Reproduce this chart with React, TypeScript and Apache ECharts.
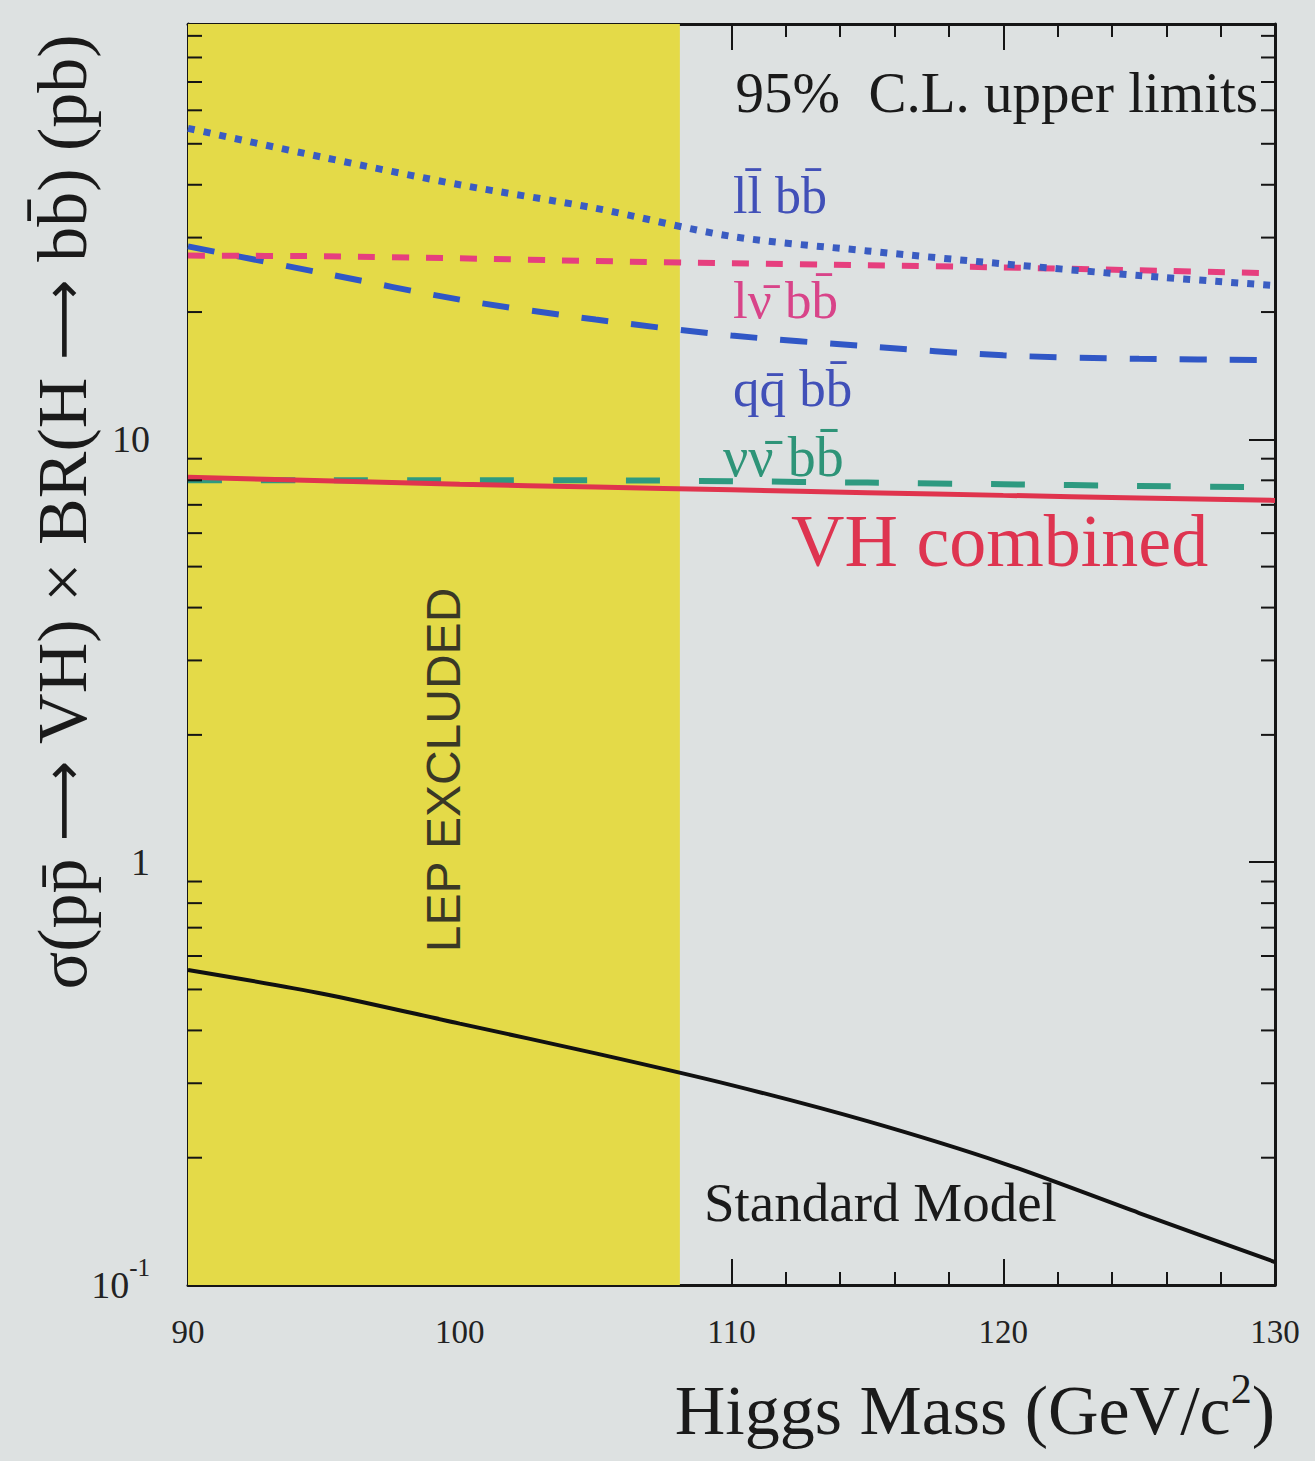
import React, { useEffect, useRef } from 'react';
import * as echarts from 'echarts';

// Higgs mass points (GeV/c^2)
const masses = [90, 95, 100, 105, 110, 115, 120, 125, 130];
// 95% C.L. upper limits (pb)
const llbb = [54.4, 46.4, 40.0, 35.2, 30.2, 27.9, 26.0, 24.4, 23.1];
const lvbb = [27.2, 27.1, 26.8, 26.4, 26.1, 25.8, 25.5, 25.1, 24.7];
const qqbb = [28.6, 24.7, 21.4, 19.2, 17.6, 16.6, 15.8, 15.5, 15.4];
const vvbb = [8.0, 8.0, 8.0, 8.0, 7.96, 7.9, 7.83, 7.76, 7.7];
const vhCombined = [8.13, 7.98, 7.83, 7.71, 7.6, 7.48, 7.37, 7.27, 7.17];
const standardModel = [0.556, 0.488, 0.415, 0.353, 0.297, 0.244, 0.194, 0.148, 0.1133];

const lepLimit = 108.1;
const xMin = 90;
const xMax = 130;
const xTickInterval = 10;
const yMin = 0.1;
const yMax = 96;
const yMinorTicks = [0.2, 0.3, 0.4, 0.5, 0.6, 0.7, 0.8, 0.9, 2, 3, 4, 5, 6, 7, 8, 9, 20, 30, 40, 50, 60, 70, 80, 90];

const SERIF = "'Liberation Serif', 'DejaVu Serif', serif";
const SANS = "'Liberation Sans', 'DejaVu Sans', sans-serif";
const BG = '#dde1e1';
const YELLOW = '#e4da48';
const INK = '#151515';

const pts = (ys: number[]) => masses.map((m, i) => [m, ys[i]]);

function lineSeries(name: string, ys: number[], color: string, width: number, type: any, z: number) {
  return {
    name,
    type: 'line',
    data: pts(ys),
    showSymbol: false,
    smooth: 0.3,
    z,
    silent: true,
    lineStyle: { color, width, type, cap: 'butt' },
  };
}

function buildOption(): any {
  const xAxisBase = {
    type: 'value',
    min: xMin,
    max: xMax,
    interval: xTickInterval,
    axisLine: { show: true, onZero: false, lineStyle: { color: INK, width: 3 } },
    axisTick: { show: true, inside: true, length: 26, lineStyle: { color: INK, width: 2 } },
    minorTick: { show: true, splitNumber: 5, length: 13, lineStyle: { color: INK, width: 2 } },
    splitLine: { show: false },
    minorSplitLine: { show: false },
  };
  const yAxisBase = {
    type: 'log',
    logBase: 10,
    min: yMin,
    max: yMax,
    axisLine: { show: true, onZero: false, lineStyle: { color: INK, width: 3 } },
    axisTick: { show: true, inside: true, length: 26, lineStyle: { color: INK, width: 2 } },
    splitLine: { show: false },
  };
  return {
    animation: false,
    backgroundColor: BG,
    grid: { left: 188, top: 24, width: 1087, height: 1261, containLabel: false },
    xAxis: [
      {
        ...xAxisBase,
        position: 'bottom',
        axisLabel: { show: true, margin: 30, fontSize: 33, fontFamily: SERIF, color: '#222' },
      },
      { ...xAxisBase, position: 'top', axisLabel: { show: false } },
    ],
    yAxis: [
      {
        ...yAxisBase,
        position: 'left',
        axisLabel: {
          show: true,
          margin: 38,
          fontSize: 38,
          fontFamily: SERIF,
          color: '#222',
          formatter: (v: number) => {
            if (Math.abs(v - 10) < 1e-6) return '10';
            if (Math.abs(v - 1) < 1e-6) return '1';
            if (Math.abs(v - 0.1) < 1e-6) return '{b|10}{s|-1}';
            return '';
          },
          rich: {
            b: { fontSize: 38, fontFamily: SERIF, color: '#222' },
            s: { fontSize: 25, fontFamily: SERIF, color: '#222', padding: [0, 0, 36, 0] },
          },
        },
      },
      { ...yAxisBase, position: 'right', axisLabel: { show: false } },
    ],
    series: [
      {
        name: 'LEP excluded',
        type: 'line',
        data: [],
        z: 1,
        silent: true,
        markArea: {
          silent: true,
          itemStyle: { color: YELLOW },
          data: [[{ xAxis: xMin }, { xAxis: lepLimit }]],
        },
      },
      {
        name: 'minor ticks',
        type: 'custom',
        z: 6,
        silent: true,
        data: yMinorTicks.map((v) => [xMin, v]),
        renderItem: (_params: any, api: any) => {
          const v = api.value(1);
          const l = api.coord([xMin, v]);
          const r = api.coord([xMax, v]);
          return {
            type: 'group',
            children: [
              { type: 'line', shape: { x1: l[0], y1: l[1], x2: l[0] + 14, y2: l[1] }, style: { stroke: INK, lineWidth: 2 } },
              { type: 'line', shape: { x1: r[0], y1: r[1], x2: r[0] - 14, y2: r[1] }, style: { stroke: INK, lineWidth: 2 } },
            ],
          };
        },
      },
      lineSeries('Standard Model', standardModel, '#111111', 4, 'solid', 3),
      lineSeries('νν̄ bb̄', vvbb, '#2e9a80', 6, [34, 39], 3),
      lineSeries('VH combined', vhCombined, '#e0344e', 5, 'solid', 4),
      lineSeries('qq̄ bb̄', qqbb, '#3057c6', 6, [27, 23], 4),
      lineSeries('lν̄ bb̄', lvbb, '#e63f7e', 6, [17, 17], 4),
      lineSeries('ll̄ bb̄', llbb, '#3a5cc2', 7, [7, 9], 5),
    ],
    graphic: [
      {
        type: 'text', x: 1258, y: 92, z: 10,
        style: { text: '95%  C.L. upper limits', fontSize: 57, fontFamily: SERIF, fill: '#1a1a1a', align: 'right', verticalAlign: 'middle' },
      },
      {
        type: 'text', x: 733, y: 195, z: 10,
        style: { text: 'll\u0304 bb\u0304', fontSize: 52, fontFamily: SERIF, fill: '#4150b8', align: 'left', verticalAlign: 'middle' },
      },
      {
        type: 'text', x: 733, y: 300, z: 10,
        style: { text: 'lν\u0304 bb\u0304', fontSize: 53, fontFamily: SERIF, fill: '#d84489', align: 'left', verticalAlign: 'middle' },
      },
      {
        type: 'text', x: 733, y: 388, z: 10,
        style: { text: 'qq\u0304 bb\u0304', fontSize: 53, fontFamily: SERIF, fill: '#4150b8', align: 'left', verticalAlign: 'middle' },
      },
      {
        type: 'text', x: 723, y: 457, z: 10,
        style: { text: 'νν\u0304 bb\u0304', fontSize: 56, fontFamily: SERIF, fill: '#2e9478', align: 'left', verticalAlign: 'middle' },
      },
      {
        type: 'text', x: 791, y: 541, z: 10,
        style: { text: 'VH combined', fontSize: 74, fontFamily: SERIF, fill: '#de3450', align: 'left', verticalAlign: 'middle' },
      },
      {
        type: 'text', x: 704, y: 1202, z: 10,
        style: { text: 'Standard Model', fontSize: 55, fontFamily: SERIF, fill: '#1a1a1a', align: 'left', verticalAlign: 'middle' },
      },
      {
        type: 'text', x: 443, y: 770, z: 10, rotation: Math.PI / 2,
        style: { text: 'LEP EXCLUDED', fontSize: 48, fontFamily: SANS, fill: '#3a3826', align: 'center', verticalAlign: 'middle' },
      },
      {
        type: 'text', x: 62, y: 512, z: 10, rotation: Math.PI / 2,
        style: {
          text: '{m|σ(pp\u0304 }{a|⟶}{m| VH) × BR(H }{a|⟶}{m| bb\u0304) (pb)}',
          align: 'center', verticalAlign: 'middle',
          rich: {
            m: { fontSize: 70, fontFamily: SERIF, fill: '#1a1a1a', color: '#1a1a1a' },
            a: { fontSize: 56, fontFamily: "'DejaVu Sans', sans-serif", fill: '#1a1a1a', color: '#1a1a1a' },
          },
        },
      },
      {
        type: 'text', x: 1275, y: 1410, z: 10,
        style: {
          text: '{m|Higgs Mass (GeV/c}{s|2}{m|)}',
          align: 'right', verticalAlign: 'middle',
          rich: {
            m: { fontSize: 70, fontFamily: SERIF, fill: '#1a1a1a', color: '#1a1a1a' },
            s: { fontSize: 42, fontFamily: SERIF, fill: '#1a1a1a', color: '#1a1a1a', padding: [0, 0, 42, 0] },
          },
        },
      },
    ],
  };
}

export default function App() {
  const ref = useRef<HTMLDivElement>(null);
  useEffect(() => {
    if (!ref.current) return;
    const chart = echarts.init(ref.current, undefined, { renderer: 'svg' });
    chart.setOption(buildOption());
    return () => chart.dispose();
  }, []);
  return (
    <div
      ref={ref}
      style={{ position: 'absolute', left: 0, top: 0, width: 1315, height: 1461, background: BG }}
    />
  );
}
